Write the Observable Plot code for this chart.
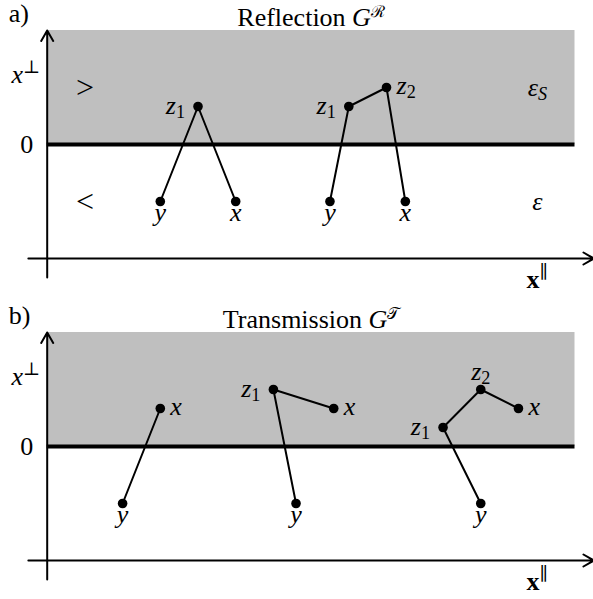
<!DOCTYPE html>
<html>
<head>
<meta charset="utf-8">
<script src="https://cdn.jsdelivr.net/npm/d3@7"></script>
<script src="https://cdn.jsdelivr.net/npm/@observablehq/plot@0.6"></script>
<style>
  body { margin: 0; background: #fff; }
  #chart svg { display: block; }
</style>
</head>
<body>
<div id="chart"></div>
<script>
// ---- Panels ----
const panelIds = ["a", "b"];
const panelTitles = ["Reflection G^ℛ", "Transmission G^𝒯"];
const panelTags = ["a)", "b)"];

// ---- Medium geometry (data units: x∥ along the interface, x⊥ normal to it) ----
const interfaceX = [0, 14];      // extent of the interface / shaded half-space
const slabTop = 6;               // top of shaded region (x⊥)
const axisParExtent = [-0.5, 14.5];
const axisParAt = -6;            // x⊥ where the x∥ axis is drawn
const axisPerpExtent = [-7, 6];

// ---- Propagator vertices ----
const vertexPanel = ["a","a","a","a","a","a","a","b","b","b","b","b","b","b","b","b"];
const vertexPath  = [1,1,1,2,2,2,2,1,1,2,2,2,3,3,3,3];
const vertexName  = ["y","z_1","x","y","z_1","z_2","x","y","x","y","z_1","x","y","z_1","z_2","x"];
const vertexX     = [3,4,5,7.5,8,9,9.5,2,3,6.6,6,7.6,11.5,10.5,11.5,12.5];
const vertexY     = [-3,2,-3,-3,2,3,-3,-3,2,-3,3,2,-3,1,3,2];
const vertexSide  = ["below","left","below","below","left","right","below","below","right","below","left","right","below","left","above","right"];

// ---- Region annotations (panel a) ----
const regionLabels = [">", "<", "ε_S", "ε"];
const regionX = [1, 1, 13, 13];
const regionY = [3, -3, 3, -3];

// ---- Axis labels ----
const axisPerpLabel = "x^⊥";
const axisPerpLabelAt = 3.7;
const axisZeroLabel = "0";
const axisParLabel = "x^∥";
const axisParLabelAt = [13, -7.1];
const titleAt = [7, 6.7];
const tagAt = [-1.02, 6.9];

const FONT = "'Liberation Serif', 'DejaVu Serif', serif";
const FS = 26;

const sideOpts = {
  below: {dx: 0, dy: 11, textAnchor: "middle"},
  left:  {dx: -13, dy: -1, textAnchor: "end"},
  right: {dx: 10, dy: -2, textAnchor: "start"},
  above: {dx: 0, dy: -18, textAnchor: "middle"}
};

function panel(i) {
  const id = panelIds[i];
  const verts = d3.range(vertexPanel.length)
    .filter(k => vertexPanel[k] === id)
    .map(k => ({path: vertexPath[k], name: vertexName[k], x: vertexX[k], y: vertexY[k], side: vertexSide[k]}));
  const regions = id === "a"
    ? regionLabels.map((t, k) => ({text: t, x: regionX[k], y: regionY[k]}))
    : [];
  const font = {fontSize: FS, fontFamily: FONT};
  const sideText = side => Plot.text(verts.filter(d => d.side === side),
    {x: "x", y: "y", text: "name", ...font, ...sideOpts[side]});

  return Plot.plot({
    width: 593,
    height: i === 0 ? 302 : 297,
    margin: 0,
    x: {domain: [0, 14], range: [46.7, 574.5], axis: null},
    y: {domain: [-7, 6], range: [277, 30], axis: null},
    style: {background: "white", fontFamily: FONT, overflow: "visible"},
    marks: [
      Plot.rect([{x1: interfaceX[0], x2: interfaceX[1], y1: 0, y2: slabTop}],
        {x1: "x1", x2: "x2", y1: "y1", y2: "y2", fill: "#bfbfbf"}),
      Plot.ruleY([0], {x1: interfaceX[0], x2: interfaceX[1], stroke: "black", strokeWidth: 4}),
      Plot.arrow([0], {x1: 0, x2: 0, y1: axisPerpExtent[0], y2: axisPerpExtent[1],
        stroke: "black", strokeWidth: 2, headLength: 9}),
      Plot.arrow([0], {x1: axisParExtent[0], x2: axisParExtent[1], y1: axisParAt, y2: axisParAt,
        stroke: "black", strokeWidth: 2, headLength: 9}),
      Plot.line(verts, {x: "x", y: "y", z: "path", stroke: "black", strokeWidth: 2}),
      Plot.dot(verts, {x: "x", y: "y", r: 4.8, fill: "black", stroke: "none"}),
      sideText("below"), sideText("left"), sideText("right"), sideText("above"),
      Plot.text(regions, {x: "x", y: "y", text: "text", fontFamily: FONT,
        fontSize: d => /^[<>]$/.test(d.text) ? 32 : FS}),
      Plot.text([panelTitles[i]], {x: titleAt[0], y: titleAt[1], text: d => d, ...font}),
      Plot.text([panelTags[i]], {x: tagAt[0], y: tagAt[1], text: d => d, textAnchor: "start", ...font}),
      Plot.text([axisPerpLabel], {x: 0, y: axisPerpLabelAt, text: d => d, dx: -7, textAnchor: "end", ...font}),
      Plot.text([axisZeroLabel], {x: 0, y: 0, text: d => d, dx: -14, textAnchor: "end", ...font}),
      Plot.text([axisParLabel], {x: axisParLabelAt[0], y: axisParLabelAt[1], text: d => d, fontWeight: "bold", ...font})
    ]
  });
}

// Turn "base_sub" / "base^sup" into real SVG tspans, italicising single-letter math symbols.
function richify(svg) {
  const ns = "http://www.w3.org/2000/svg";
  const isVar = s => /^[A-Za-z\u0370-\u03FF]$/.test(s);
  svg.querySelectorAll("text").forEach(t => {
    if (t.querySelector("tspan")) return;
    const s = t.textContent;
    const boldEl = t.closest("[font-weight]");
    const bold = boldEl && boldEl.getAttribute("font-weight") === "bold";
    const m = s.match(/^(.*?)([_^])(.+)$/);
    const base = m ? m[1] : s;
    t.textContent = "";
    base.split(/( )/).forEach(tok => {
      if (!tok) return;
      const sp = document.createElementNS(ns, "tspan");
      sp.textContent = tok;
      if (!bold && isVar(tok)) sp.setAttribute("font-style", "italic");
      t.appendChild(sp);
    });
    if (m) {
      const script = /^[\u2100-\u214F]|^\uD835/.test(m[3]);
      const sp = document.createElementNS(ns, "tspan");
      sp.textContent = m[3];
      sp.setAttribute("font-size", FS * (script ? 0.62 : 0.7));
      sp.setAttribute("font-weight", "normal");
      sp.setAttribute("dy", m[2] === "_" ? FS * 0.15 : -FS * (script ? 0.33 : 0.38));
      if (isVar(m[3])) sp.setAttribute("font-style", "italic");
      t.appendChild(sp);
    }
  });
}

const host = document.getElementById("chart");
panelIds.forEach((_, i) => {
  const svg = panel(i);
  richify(svg);
  host.append(svg);
});
</script>
</body>
</html>
